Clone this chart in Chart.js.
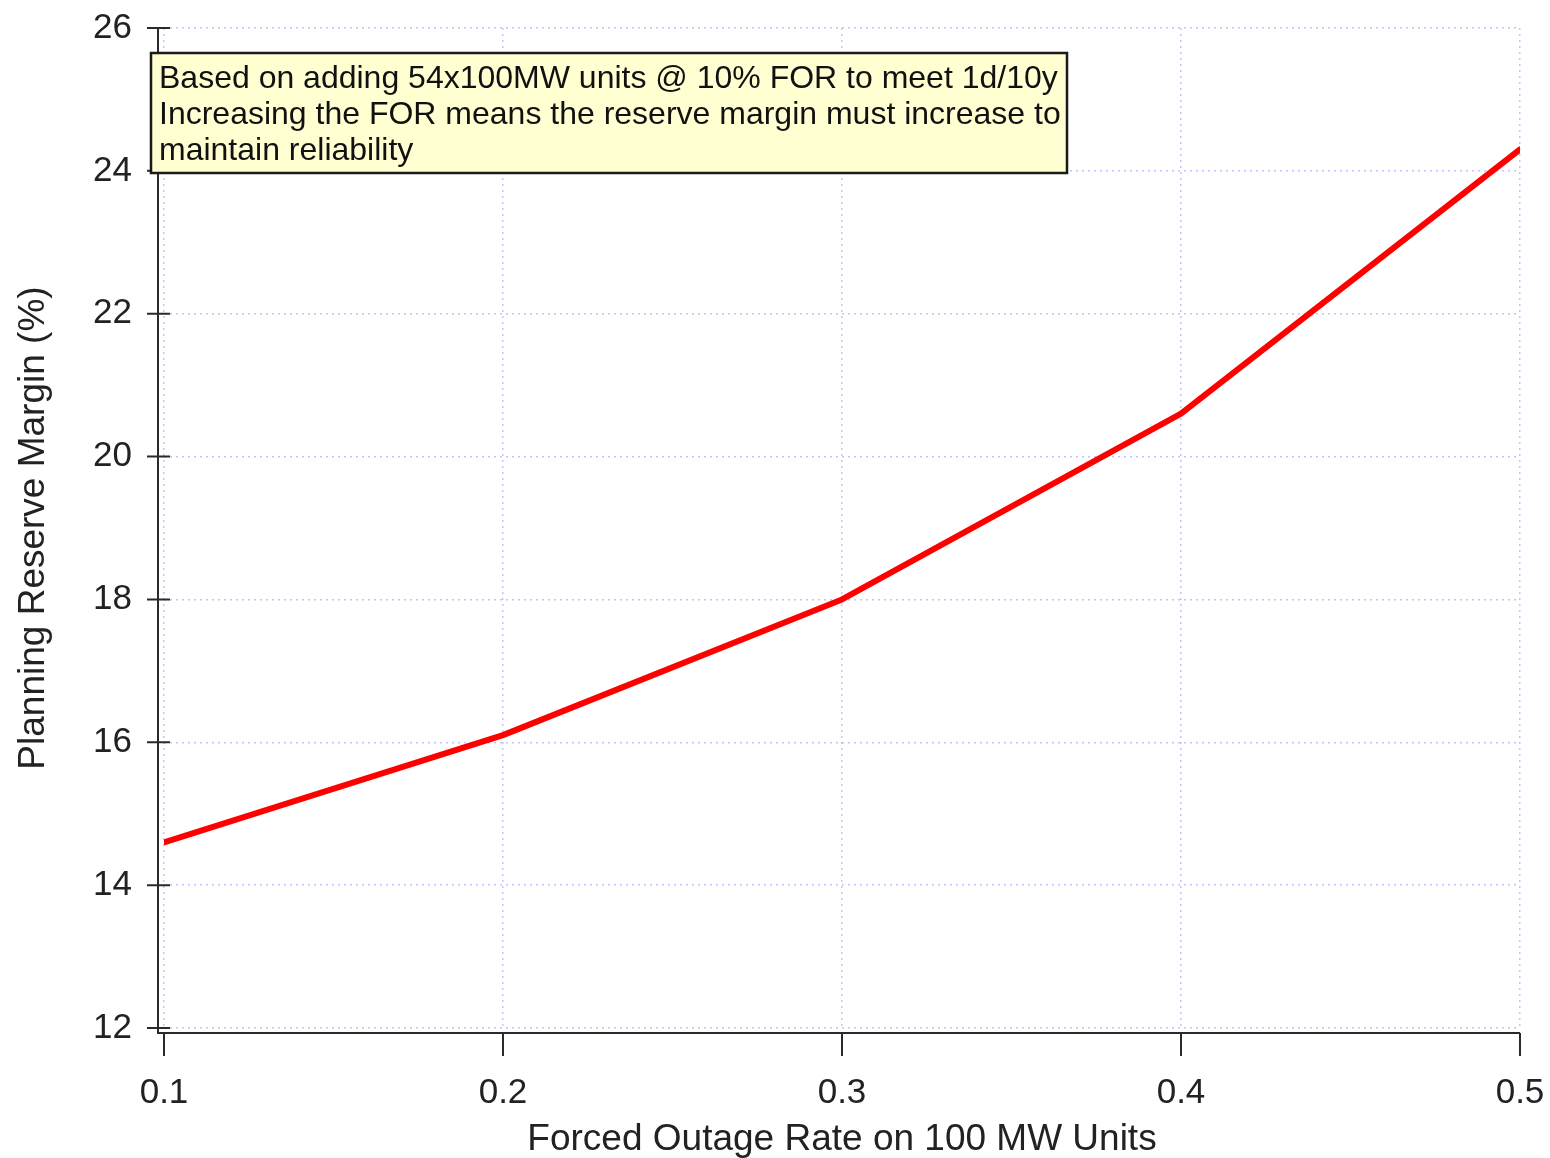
<!DOCTYPE html>
<html>
<head>
<meta charset="utf-8">
<script src="https://cdn.jsdelivr.net/npm/chart.js@4/dist/chart.umd.min.js"></script>
<style>
  html, body { margin: 0; padding: 0; background: #fff; }
  #wrap { width: 1550px; height: 1158px; }
</style>
</head>
<body>
<div id="wrap"><canvas id="c" width="1550" height="1158"></canvas></div>
<script>
// data
var forcedOutageRate = [0.1, 0.2, 0.3, 0.4, 0.5];
var reserveMargin = [14.6, 16.1, 18.0, 20.6, 24.3];
var xTicks = [0.1, 0.2, 0.3, 0.4, 0.5];
var yTicks = [12, 14, 16, 18, 20, 22, 24, 26];
var noteLines = [
    'Based on adding 54x100MW units @ 10% FOR to meet 1d/10y',
    'Increasing the FOR means the reserve margin must increase to',
    'maintain reliability'
];

var FONT = '"Liberation Sans", Arial, sans-serif';
var gridColor = 'rgba(170,170,255,0.7)';

// offset axes with crossing ticks, drawn off the scales
var axesPlugin = {
    id: 'offsetAxes',
    afterDatasetsDraw: function(chart){
        var ctx = chart.ctx;
        var xs = chart.scales.x, ys = chart.scales.y;
        var ax = xs.getPixelForValue(xTicks[0]) - 6;
        var ay = ys.getPixelForValue(yTicks[0]) + 5;
        var top = ys.getPixelForValue(yTicks[yTicks.length - 1]);
        var right = xs.getPixelForValue(xTicks[xTicks.length - 1]);

        ctx.save();
        ctx.strokeStyle = '#2a2a2a';
        ctx.lineWidth = 2;
        ctx.beginPath();
        ctx.moveTo(ax, top);
        ctx.lineTo(ax, ay);
        ctx.lineTo(right, ay);
        ctx.stroke();

        ctx.beginPath();
        for( var i = 0; i < yTicks.length; i++ ){
            var py = ys.getPixelForValue(yTicks[i]);
            ctx.moveTo(ax - 11, py);
            ctx.lineTo(ax + 12, py);
        }
        for( var j = 0; j < xTicks.length; j++ ){
            var px = xs.getPixelForValue(xTicks[j]);
            ctx.moveTo(px, ay);
            ctx.lineTo(px, ay + 23);
        }
        ctx.stroke();
        ctx.restore();
    },
    afterDraw: function(chart){
        // note box in the upper left
        var ctx = chart.ctx;
        var bx = 151, by = 53, bw = 916, bh = 120;
        ctx.save();
        ctx.fillStyle = '#ffffd2';
        ctx.fillRect(bx, by, bw, bh);
        ctx.strokeStyle = '#1a1a1a';
        ctx.lineWidth = 2.5;
        ctx.strokeRect(bx, by, bw, bh);
        ctx.fillStyle = '#111';
        ctx.font = '32px ' + FONT;
        ctx.textBaseline = 'middle';
        ctx.textAlign = 'left';
        for( var i = 0; i < noteLines.length; i++ ){
            ctx.fillText(noteLines[i], bx + 8, by + 26 + i * 36);
        }
        ctx.restore();
    }
};

function noOverhang(scale){
    scale.paddingTop = 0;
    scale.paddingBottom = 0;
    scale.paddingLeft = 0;
    scale.paddingRight = 0;
}

new Chart(document.getElementById('c'), {
    type: 'line',
    data: {
        labels: forcedOutageRate,
        datasets: [{
            data: forcedOutageRate.map(function(x, i){ return {x: x, y: reserveMargin[i]}; }),
            borderColor: '#ff0000',
            borderWidth: 6,
            borderCapStyle: 'round',
            borderJoinStyle: 'round',
            pointRadius: 0,
            tension: 0,
            fill: false
        }]
    },
    options: {
        responsive: false,
        animation: false,
        layout: { padding: { left: 0, top: 28, right: 30, bottom: 0 } },
        plugins: {
            legend: { display: false },
            tooltip: { enabled: false }
        },
        scales: {
            x: {
                type: 'linear',
                min: 0.1,
                max: 0.5,
                afterBuildTicks: function(scale){
                    scale.ticks = xTicks.map(function(v){ return {value: v}; });
                },
                afterFit: function(scale){ scale.height = 130; noOverhang(scale); },
                grid: { color: gridColor, lineWidth: 1.5, drawTicks: false },
                border: { display: false, dash: [2, 4] },
                ticks: {
                    padding: 44,
                    color: '#222',
                    font: { family: FONT, size: 35 },
                    maxRotation: 0,
                    callback: function(v){ return Number(v).toFixed(1); }
                },
                title: {
                    display: true,
                    text: 'Forced Outage Rate on 100 MW Units',
                    color: '#222',
                    font: { family: FONT, size: 37, lineHeight: 1.0 },
                    padding: { top: 0, bottom: 0 }
                }
            },
            y: {
                min: 12,
                max: 26,
                afterBuildTicks: function(scale){
                    scale.ticks = yTicks.map(function(v){ return {value: v}; });
                },
                afterFit: function(scale){ scale.width = 164; noOverhang(scale); },
                grid: { color: gridColor, lineWidth: 1.5, drawTicks: false },
                border: { display: false, dash: [2, 4] },
                ticks: {
                    padding: 32,
                    color: '#222',
                    font: { family: FONT, size: 35 }
                },
                title: {
                    display: true,
                    text: 'Planning Reserve Margin (%)',
                    color: '#222',
                    font: { family: FONT, size: 37 },
                    padding: { top: 12, bottom: 0 }
                }
            }
        }
    },
    plugins: [axesPlugin]
});
</script>
</body>
</html>
